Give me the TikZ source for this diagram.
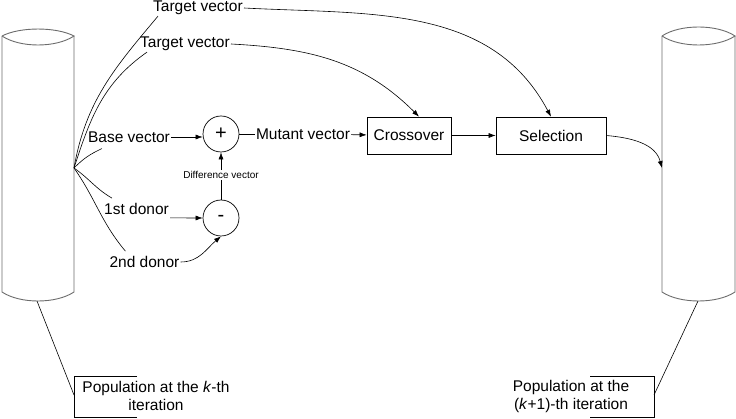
\documentclass[tikz,border=0pt]{standalone}
\usepackage{fontspec}
\setmainfont{Liberation Sans}
\usetikzlibrary{arrows.meta}
\begin{document}
\begin{tikzpicture}[x=1pt,y=-1pt,
  every node/.style={font=\fontsize{15.5}{18}\selectfont, inner sep=1pt},
  conn/.style={line width=0.6pt},
  arr/.style={conn,-{Latex[length=7pt,width=5pt]}},
  cyl/.style={draw=gray!85!black, line width=0.9pt},
  proc/.style={draw,line width=0.7pt,minimum width=84pt,minimum height=37pt},
  op/.style={draw,circle,minimum size=36pt,inner sep=0pt,line width=0.7pt,font=\fontsize{20}{22}\selectfont},
  small/.style={font=\fontsize{10}{12}\selectfont}]
\useasboundingbox (0,0) rectangle (736,419);
% cylinders
\draw[cyl] (2,36) -- (2,292) .. controls (20,304) and (56,304) .. (74,292) -- (74,36);
\draw[cyl] (2,36) .. controls (20,26.7) and (56,26.7) .. (74,36) .. controls (56,48) and (20,48) .. (2,36);
\draw[cyl] (662,36) -- (662,292) .. controls (680,304) and (717,304) .. (735,292) -- (735,36);
\draw[cyl] (662,36) .. controls (680,24) and (717,24) .. (735,36) .. controls (717,48) and (680,48) .. (662,36);
\coordinate (fan) at (74,168);
\coordinate (lbot) at (37,301);
\coordinate (rbot) at (698,301);
\coordinate (rin) at (662,168);
% nodes
\node[op] (plus) at (221,134) {+};
\node[op] (minus) at (221,218) {-};
\node[proc] (cross) at (409,135.5) {Crossover};
\node[proc, minimum width=110pt] (sel) at (551,135.5) {Selection};
\node (mut) at (303,134) {Mutant vector};
\node[small] (diff) at (221,175) {Difference vector};
\node (base) at (129,137) {Base vector};
\node (d1) at (136.5,209) {1st donor};
\node (d2) at (144.5,262) {2nd donor};
\node (t1) at (198,8) {Target vector};
\node (t2) at (185,44) {Target vector};
\node[align=center] (lab1) at (156,396) {Population at the \textit{k}-th\\iteration};
\node[align=center] (lab2) at (571,396) {Population at the\\(\textit{k}+1)-th iteration};
\coordinate (b1) at (74,395);
\coordinate (b2) at (654,395);
% brackets and leaders
\draw[conn] (137,376) -- (74,376) -- (74,417) -- (137,417);
\draw[conn] (590,376) -- (654,376) -- (654,417) -- (590,417);
\draw[conn] (lbot) -- (b1);
\draw[conn] (rbot) -- (b2);
% fan lines
\draw[conn] (fan) to[out=80,in=-130] ([xshift=6pt]t1.south west);
\draw[conn] (fan) to[out=72,in=-145] ([xshift=8pt]t2.south west);
\draw[conn] (fan) to[out=45,in=-155] ([shift={(15,5)}]base.south west);
\draw[conn] (fan) to[out=-35,in=150] ([shift={(9,-4)}]d1.north west);
\draw[conn] (fan) to[out=-55,in=130] ([shift={(17,-4)}]d2.north west);
% connectors
\draw[arr] (t1.east) to[out=-3,in=118] (sel.north);
\draw[arr] (t2.east) to[out=-3,in=135] ([xshift=10pt]cross.north);
\draw[arr] (base.east) -- (base.east -| plus.west);
\draw[arr] ([yshift=-2pt]d1.south east) to[out=0,in=180] (minus.west);
\draw[arr] (d2.east) to[out=0,in=-140] (minus.south);
\draw[conn] (minus) -- (diff);
\draw[arr] (diff) -- (plus);
\draw[conn] (plus) -- (mut);
\draw[arr] (mut) -- (cross);
\draw[arr] (cross) -- (sel);
\draw[arr] (sel.east) to[out=-5,in=105] (rin);
\end{tikzpicture}
\end{document}
